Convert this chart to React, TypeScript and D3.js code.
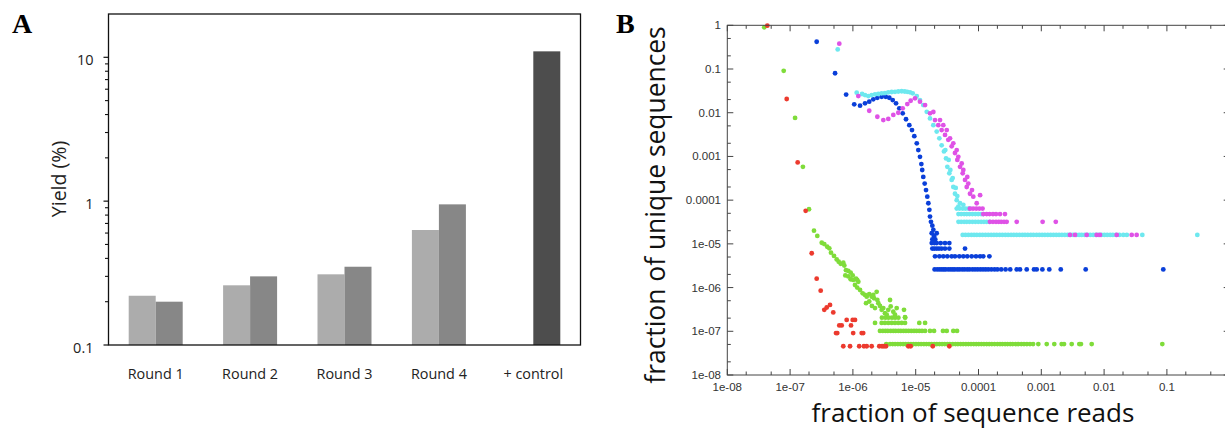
import React from "react";
import * as d3 from "d3";

const W = 1225;
const H = 429;

// ---------- Panel A data ----------
const categories = ["Round 1", "Round 2", "Round 3", "Round 4", "+ control"];
const seriesLight: (number | null)[] = [0.22, 0.26, 0.31, 0.63, null];
const seriesMedium: (number | null)[] = [0.2, 0.3, 0.35, 0.95, null];
const seriesControl: (number | null)[] = [null, null, null, null, 11];
const yTicksA = [0.1, 1, 10];
const yTickLabelsA = ["0.1", "1", "10"];

// ---------- Panel B data ----------
const xTicksB = [1e-8, 1e-7, 1e-6, 1e-5, 1e-4, 1e-3, 1e-2, 1e-1];
const xTickLabelsB = ["1e-08", "1e-07", "1e-06", "1e-05", "0.0001", "0.001", "0.01", "0.1"];
const yTicksB = [1, 0.1, 0.01, 1e-3, 1e-4, 1e-5, 1e-6, 1e-7, 1e-8];
const yTickLabelsB = ["1", "0.1", "0.01", "0.001", "0.0001", "1e-05", "1e-06", "1e-07", "1e-08"];

type P = [number, number];

// red
const redCurve: P[] = [
  [4.34e-8, 0.98], [8.83e-8, 0.0206], [1.32e-7, 7.3e-4], [1.77e-7, 5.7e-5], [2.21e-7, 6.1e-6],
  [2.65e-7, 1.6e-6], [3.07e-7, 8.5e-7], [3.5e-7, 3.1e-7], [3.83e-7, 3.5e-7], [4.32e-7, 4.0e-7], [4.87e-7, 2.7e-7],
];
const redRowY = [4.55e-8, 9.1e-8, 1.36e-7, 1.82e-7];
const redRowX = [
  [7.03e-7, 9.0e-7, 1.26e-6, 1.5e-6, 1.66e-6, 1.99e-6, 2.63e-6, 2.91e-6, 3.13e-6, 3.37e-6, 7.62e-6, 8.32e-6, 1.87e-5, 3.43e-5],
  [5.38e-7, 5.64e-7, 1.01e-6, 1.38e-6, 1.46e-6],
  [6.07e-7, 6.63e-7, 9.33e-7],
  [7.96e-7, 9.93e-7, 1.08e-6],
];

// green
const greenCurve: P[] = [
  [3.88e-8, 0.9], [7.91e-8, 0.091], [1.2e-7, 0.0076], [1.6e-7, 5.8e-4], [2.0e-7, 6.2e-5], [2.4e-7, 2.0e-5],
  [2.71e-7, 1.52e-5], [3.19e-7, 1.06e-5], [3.5e-7, 9.9e-6], [3.9e-7, 8.6e-6], [4.21e-7, 7.9e-6], [4.48e-7, 6.3e-6],
  [5.0e-7, 5.3e-6], [5.52e-7, 4.4e-6], [5.94e-7, 3.9e-6], [6.4e-7, 3.5e-6], [7.03e-7, 3.7e-6], [7.3e-7, 3.2e-6],
  [7.76e-7, 2.5e-6], [8.45e-7, 2.4e-6], [9.2e-7, 2.2e-6], [9.93e-7, 1.9e-6], [7.57e-7, 1.9e-6], [8.45e-7, 1.8e-6],
  [9.2e-7, 1.55e-6], [1.01e-6, 1.5e-6], [1.12e-6, 1.6e-6], [1.17e-6, 1.5e-6], [1.22e-6, 1.36e-6], [1.08e-6, 1.15e-6],
  [1.17e-6, 1.0e-6], [1.3e-6, 8.8e-7], [1.43e-6, 7.4e-7], [1.56e-6, 6.8e-7], [1.66e-6, 6.2e-7], [1.82e-6, 7.1e-7],
  [1.99e-6, 6.2e-7], [2.11e-6, 6.8e-7], [2.17e-6, 5.7e-7], [2.39e-6, 8.0e-7], [2.45e-6, 5.2e-7], [1.62e-6, 4.4e-7],
  [1.82e-6, 4.8e-7], [2.01e-6, 3.8e-7], [2.25e-6, 3.4e-7], [2.54e-6, 4.4e-7], [2.7e-6, 3.8e-7], [2.87e-6, 3.1e-7],
  [3.05e-6, 3.4e-7], [3.24e-6, 2.6e-7], [3.45e-6, 2.4e-7], [3.66e-6, 3.1e-7], [3.9e-6, 5.2e-7], [4.0e-6, 3.7e-7],
  [4.4e-6, 2.8e-7], [4.68e-6, 2.4e-7], [4.98e-6, 3.4e-7], [6.51e-6, 3.1e-7], [6.76e-6, 2.1e-7],
];
const greenRowY = [5.1e-8, 1.02e-7, 1.55e-7, 2.05e-7];
const greenRowX = [
  [3.4e-6, 3.9e-6, 4.3e-6, 4.7e-6, 5.2e-6, 5.7e-6, 6.3e-6, 6.9e-6, 7.6e-6, 8.4e-6, 9.2e-6, 1.01e-5, 1.11e-5,
    1.22e-5, 1.35e-5, 1.48e-5, 1.63e-5, 1.79e-5, 1.97e-5, 2.17e-5, 2.39e-5, 2.63e-5, 2.9e-5, 3.2e-5, 3.5e-5,
    3.9e-5, 4.3e-5, 4.7e-5, 5.2e-5, 5.7e-5, 6.3e-5, 6.9e-5, 7.6e-5, 8.4e-5, 9.2e-5, 1.01e-4, 1.11e-4, 1.22e-4,
    1.35e-4, 1.48e-4, 1.63e-4, 1.8e-4, 2.0e-4, 2.2e-4, 2.4e-4, 2.65e-4, 2.9e-4, 3.2e-4, 3.5e-4, 3.9e-4, 4.3e-4,
    4.8e-4, 5.3e-4, 5.9e-4, 6.6e-4, 7.4e-4, 8.96e-4, 1.22e-3, 1.61e-3, 2.11e-3, 2.3e-3, 3.05e-3, 4.03e-3,
    4.28e-3, 6.35e-3, 8.45e-2],
  [2.7e-6, 3.0e-6, 3.3e-6, 3.6e-6, 4.0e-6, 4.4e-6, 4.8e-6, 5.3e-6, 5.8e-6, 6.4e-6, 7.0e-6, 7.7e-6, 8.5e-6,
    9.4e-6, 1.03e-5, 1.14e-5, 1.26e-5, 1.41e-5, 1.69e-5, 1.96e-5, 2.72e-5, 3.12e-5, 3.97e-5, 4.55e-5],
  [2.25e-6, 2.87e-6, 3.24e-6, 3.66e-6, 4.15e-6, 4.68e-6, 5.28e-6, 5.98e-6, 6.76e-6, 1.14e-5, 1.41e-5],
  [2.9e-6, 3.3e-6, 3.7e-6, 4.2e-6, 4.7e-6, 5.3e-6, 6.8e-6],
];

// blue
const blueCurve: P[] = [
  [2.65e-7, 0.42], [5.2e-7, 0.08], [7.8e-7, 0.026], [1.05e-6, 0.0156], [1.3e-6, 0.0145], [1.56e-6, 0.0164],
  [1.82e-6, 0.0179], [2.11e-6, 0.0203], [2.45e-6, 0.022], [2.87e-6, 0.0232], [3.33e-6, 0.0232], [3.8e-6, 0.022],
  [4.3e-6, 0.0195], [4.86e-6, 0.0164], [5.48e-6, 0.0126], [6.21e-6, 0.0097], [7.01e-6, 0.0071], [7.91e-6, 0.0052],
  [8.73e-6, 0.004], [9.5e-6, 0.0029], [1.04e-5, 0.002], [1.1e-5, 0.0014], [1.17e-5, 9.8e-4], [1.23e-5, 6.7e-4],
  [1.27e-5, 4.9e-4], [1.32e-5, 3.4e-4], [1.39e-5, 2.4e-4], [1.46e-5, 1.7e-4], [1.53e-5, 1.2e-4], [1.59e-5, 8.5e-5],
  [1.65e-5, 6.0e-5], [1.69e-5, 4.2e-5], [1.75e-5, 3.2e-5], [1.84e-5, 2.6e-5], [1.91e-5, 2.1e-5],
  [1.8e-5, 1.75e-5], [2.16e-5, 1.75e-5], [1.96e-5, 1.5e-5], [1.84e-5, 1.26e-5], [2.05e-5, 1.26e-5],
];
const blueRowY = [2.6e-6, 5.2e-6, 7.8e-6, 1.04e-5];
const blueRowX = [
  [2.0e-5, 2.2e-5, 2.4e-5, 2.6e-5, 2.8e-5, 3.0e-5, 3.3e-5, 3.6e-5, 3.9e-5, 4.2e-5, 4.6e-5, 5.0e-5, 5.5e-5,
    6.0e-5, 6.6e-5, 7.2e-5, 8.0e-5, 8.8e-5, 9.7e-5, 1.07e-4, 1.18e-4, 1.3e-4, 1.43e-4, 1.6e-4, 1.8e-4, 2.0e-4,
    2.3e-4, 2.7e-4, 3.2e-4, 4.06e-4, 4.58e-4, 5.86e-4, 7.65e-4, 8.45e-4, 1.04e-3, 1.34e-3, 2.04e-3, 5.09e-3, 8.76e-2],
  [2.03e-5, 2.38e-5, 2.75e-5, 3.19e-5, 3.74e-5, 4.22e-5, 4.95e-5, 5.73e-5, 6.63e-5, 7.79e-5, 9.12e-5, 1.06e-4,
    1.19e-4, 1.49e-4],
  [1.84e-5, 1.98e-5, 2.16e-5, 2.35e-5, 2.59e-5, 2.93e-5, 3.43e-5, 6.1e-5],
  [1.8e-5, 1.98e-5, 2.16e-5, 2.5e-5, 2.93e-5, 3.43e-5],
];

// cyan
const cyanCurve: P[] = [
  [5.73e-7, 0.28], [1.15e-6, 0.0287], [1.4e-6, 0.0268], [1.56e-6, 0.0254], [1.76e-6, 0.024], [1.99e-6, 0.0254],
  [2.25e-6, 0.0264], [2.54e-6, 0.0268], [2.87e-6, 0.0278], [3.24e-6, 0.0282], [3.66e-6, 0.0293], [4.15e-6, 0.0298],
  [4.68e-6, 0.03], [5.28e-6, 0.0306], [5.98e-6, 0.031], [6.69e-6, 0.0306], [7.35e-6, 0.03], [8.12e-6, 0.0293],
  [8.96e-6, 0.0278], [1.04e-5, 0.024],
  [1.17e-5, 0.0195], [1.32e-5, 0.015], [1.5e-5, 0.0105], [1.69e-5, 0.0074], [1.91e-5, 0.0052], [2.16e-5, 0.0037],
  [2.38e-5, 0.0026], [2.59e-5, 0.0018], [2.82e-5, 0.0013], [3.04e-5, 9.0e-4], [3.19e-5, 5.8e-4], [3.43e-5, 4.1e-4],
  [3.74e-5, 2.9e-4], [3.97e-5, 2.0e-4], [4.22e-5, 1.4e-4], [4.5e-5, 1.0e-4], [4.77e-5, 7.1e-5],
  [2.96e-5, 1.4e-3], [3.35e-5, 8.3e-4], [3.56e-5, 4.9e-4], [3.88e-5, 3.2e-4], [4.34e-5, 1.9e-4], [4.6e-5, 1.24e-4],
  [5.08e-5, 8.5e-5], [5.73e-5, 7.8e-5],
];
const cyanRowY = [1.6e-5, 3.2e-5, 4.8e-5, 6.4e-5];
const cyanRowX = [
  [5.6e-5, 6.2e-5, 6.9e-5, 7.7e-5, 8.5e-5, 9.4e-5, 1.05e-4, 1.16e-4, 1.29e-4, 1.43e-4, 1.59e-4, 1.76e-4, 1.95e-4,
    2.17e-4, 2.4e-4, 2.67e-4, 2.96e-4, 3.3e-4, 3.65e-4, 4.05e-4, 4.5e-4, 5.0e-4, 5.5e-4, 6.1e-4, 6.8e-4, 7.5e-4,
    8.4e-4, 9.3e-4, 1.03e-3, 1.14e-3, 1.27e-3, 1.41e-3, 1.56e-3, 1.73e-3, 1.92e-3, 2.13e-3, 2.37e-3, 2.63e-3,
    2.9e-3, 3.2e-3, 3.6e-3, 4.0e-3, 4.4e-3, 4.9e-3, 5.4e-3, 6.0e-3, 6.7e-3, 7.4e-3, 8.2e-3, 9.1e-3, 1.01e-2,
    1.12e-2, 1.25e-2, 1.38e-2, 1.55e-2, 1.75e-2, 2.02e-2, 2.3e-2, 4.06e-2, 0.305],
  [4.8e-5, 5.3e-5, 5.9e-5, 6.5e-5, 7.2e-5, 8.0e-5, 8.9e-5, 9.9e-5, 1.1e-4, 1.22e-4, 1.35e-4, 1.5e-4],
  [4.8e-5, 5.3e-5, 5.9e-5, 6.5e-5, 7.2e-5, 8.0e-5, 8.9e-5, 9.9e-5, 1.1e-4, 1.19e-4],
  [4.5e-5, 5.0e-5, 5.6e-5, 6.2e-5, 6.9e-5, 7.3e-5],
];

// magenta
const magentaCurve: P[] = [
  [6.07e-7, 0.38], [1.22e-6, 0.024], [1.82e-6, 0.0111], [2.45e-6, 0.0081], [3.05e-6, 0.0068], [3.66e-6, 0.0072],
  [4.4e-6, 0.0089], [5.28e-6, 0.01], [6.21e-6, 0.0126], [7.35e-6, 0.0158], [8.32e-6, 0.0188], [9.75e-6, 0.0213],
  [1.17e-5, 0.0179], [1.41e-5, 0.015], [1.69e-5, 0.0097], [2.03e-5, 0.0068], [2.29e-5, 0.0052], [2.59e-5, 0.004],
  [2.93e-5, 0.0031], [3.3e-5, 0.0024], [3.74e-5, 0.0017], [4.22e-5, 0.0012], [4.6e-5, 8.3e-4], [5.08e-5, 5.8e-4],
  [5.6e-5, 4.1e-4], [6.1e-5, 2.9e-4], [6.49e-5, 2.0e-4], [7.32e-5, 1.4e-4], [8.26e-5, 1.2e-4], [9.36e-5, 8.5e-5],
  [1.06e-4, 1.3e-4], [1.91e-5, 0.0104], [2.44e-5, 0.0068], [2.75e-5, 0.0052], [3.12e-5, 0.004], [3.52e-5, 0.0026],
  [3.97e-5, 0.002], [4.5e-5, 1.4e-3], [4.77e-5, 9.8e-4], [5.4e-5, 6.9e-4], [5.73e-5, 4.9e-4], [6.63e-5, 3.4e-4],
  [6.88e-5, 2.4e-4], [7.88e-5, 1.7e-4],
];
const magentaRowY = [1.6e-5, 3.2e-5, 4.8e-5, 6.4e-5];
const magentaRowX = [
  [2.86e-3, 3.44e-3, 5.28e-3, 7.62e-3, 8.6e-3, 1.59e-2, 2.75e-2, 3.3e-2],
  [1.52e-4, 1.7e-4, 1.9e-4, 2.1e-4, 2.3e-4, 2.55e-4, 2.81e-4, 4.06e-4, 1.05e-3, 1.7e-3],
  [1.19e-4, 1.35e-4, 1.5e-4, 1.7e-4, 1.9e-4, 2.2e-4, 2.64e-4],
  [7.3e-5, 8.2e-5, 9.2e-5, 1.03e-4, 1.16e-4],
];

const rows = (ys: number[], xs: number[][]): P[] => xs.flatMap((r, i) => r.map((x) => [x, ys[i]] as P));

const seriesB = [
  { name: "green", color: "#7fdc3a", pts: [...greenCurve, ...rows(greenRowY, greenRowX)] },
  { name: "red", color: "#ec3a2e", pts: [...redCurve, ...rows(redRowY, redRowX)] },
  { name: "blue", color: "#0a3fd9", pts: [...blueCurve, ...rows(blueRowY, blueRowX)] },
  { name: "cyan", color: "#6ee8ef", pts: [...cyanCurve, ...rows(cyanRowY, cyanRowX)] },
  { name: "magenta", color: "#df52e6", pts: [...magentaCurve, ...rows(magentaRowY, magentaRowX)] },
];

const mant = (v: number) => Math.round(v / Math.pow(10, Math.floor(Math.log10(v) + 1e-9)));

export default function App() {
  // Panel A
  const aL = 108.5, aR = 580.5, aT = 14, aB = 345;
  const xA = d3.scaleBand<string>().domain(categories).range([aL, aR]);
  const yA = d3.scaleLog().domain([0.1, 20]).range([aB, aT]);
  const barW = xA.bandwidth() * 0.286;
  const minorA = yA.ticks().filter((v) => v < 10 && mant(v) !== 1);
  const fA = "'Open Sans', sans-serif";

  // Panel B
  const bL = 727.3, bR = 1229.7, bT = 25.3, bB = 375;
  const xB = d3.scaleLog().domain([1e-8, 1]).range([bL, bR]);
  const yB = d3.scaleLog().domain([1e-8, 1]).range([bB, bT]);
  const minorXB = xB.ticks().filter((v) => [2, 5].includes(mant(v)));
  const minorYB = yB.ticks().filter((v) => [2, 5].includes(mant(v)));
  const axC = "#444";
  const fB = "'Liberation Sans', Arial, sans-serif";

  return (
    <svg width={W} height={H} style={{ position: "absolute", left: 0, top: 0, background: "#fff" }}>
      <rect x={0} y={0} width={W} height={H} fill="#fff" />
      {/* ===== Panel A ===== */}
      <text x={12} y={33} fontFamily="'Liberation Serif', serif" fontWeight="bold" fontSize={28}>A</text>
      {categories.map((c, i) => {
        const cx = (xA(c) as number) + xA.bandwidth() / 2;
        const els: any[] = [];
        const l = seriesLight[i], m = seriesMedium[i], k = seriesControl[i];
        if (l != null) els.push(<rect key="l" x={cx - barW} y={yA(l)} width={barW} height={aB - yA(l)} fill="#acacac" />);
        if (m != null) els.push(<rect key="m" x={cx} y={yA(m)} width={barW} height={aB - yA(m)} fill="#878787" />);
        if (k != null) els.push(<rect key="k" x={cx} y={yA(k)} width={barW} height={aB - yA(k)} fill="#4d4d4d" />);
        return <g key={c}>{els}</g>;
      })}
      <rect x={aL} y={aT} width={aR - aL} height={aB - aT} fill="none" stroke="#111" strokeWidth={1.3} />
      {yTicksA.map((v, i) => (
        <g key={v}>
          <line x1={aL - 5} x2={aL} y1={yA(v)} y2={yA(v)} stroke="#111" strokeWidth={1.2} />
          <text x={aL - 15} y={yA(v) + 7.6} textAnchor="end" fontFamily={fA} fontSize={14.5} fill="#222">{yTickLabelsA[i]}</text>
        </g>
      ))}
      {minorA.map((v) => (
        <line key={v} x1={aL - 3.5} x2={aL} y1={yA(v)} y2={yA(v)} stroke="#111" strokeWidth={1.1} />
      ))}
      {categories.map((c) => (
        <text key={c} x={(xA(c) as number) + xA.bandwidth() / 2} y={379} textAnchor="middle" fontFamily={fA} fontSize={14.4} fill="#222">{c}</text>
      ))}
      <text transform={`translate(66,179) rotate(-90)`} textAnchor="middle" fontFamily={fA} fontSize={19.5} fill="#222">Yield (%)</text>

      {/* ===== Panel B ===== */}
      <text x={616} y={33} fontFamily="'Liberation Serif', serif" fontWeight="bold" fontSize={28}>B</text>
      {seriesB.map((s) => (
        <g key={s.name} fill={s.color}>
          {s.pts.map((p, i) => (
            <circle key={i} cx={xB(p[0])} cy={yB(p[1])} r={2.4} />
          ))}
        </g>
      ))}
      <rect x={bL} y={bT} width={bR - bL} height={bB - bT} fill="none" stroke={axC} strokeWidth={1} />
      {xTicksB.map((v, i) => (
        <g key={"xt" + v}>
          <line x1={xB(v)} x2={xB(v)} y1={bB} y2={bB - 6} stroke={axC} />
          <line x1={xB(v)} x2={xB(v)} y1={bT} y2={bT + 6} stroke={axC} />
          <text x={xB(v)} y={391} textAnchor="middle" fontFamily={fB} fontSize={11.5} fill="#333">{xTickLabelsB[i]}</text>
        </g>
      ))}
      {minorXB.map((v) => (
        <g key={"xm" + v}>
          <line x1={xB(v)} x2={xB(v)} y1={bB} y2={bB - 3.5} stroke={axC} />
          <line x1={xB(v)} x2={xB(v)} y1={bT} y2={bT + 3.5} stroke={axC} />
        </g>
      ))}
      {yTicksB.map((v, i) => (
        <g key={"yt" + v}>
          <line x1={bL} x2={bL + 6} y1={yB(v)} y2={yB(v)} stroke={axC} />
          <line x1={bR} x2={bR - 6} y1={yB(v)} y2={yB(v)} stroke={axC} />
          <text x={721} y={yB(v) + 4} textAnchor="end" fontFamily={fB} fontSize={11.5} fill="#333">{yTickLabelsB[i]}</text>
        </g>
      ))}
      {minorYB.map((v) => (
        <g key={"ym" + v}>
          <line x1={bL} x2={bL + 3.5} y1={yB(v)} y2={yB(v)} stroke={axC} />
          <line x1={bR} x2={bR - 3.5} y1={yB(v)} y2={yB(v)} stroke={axC} />
        </g>
      ))}
      <text x={973} y={421.5} textAnchor="middle" fontFamily={fA} fontSize={26} fill="#111">fraction of sequence reads</text>
      <text transform={`translate(665,205) rotate(-90)`} textAnchor="middle" fontFamily={fA} fontSize={26.4} fill="#111">fraction of unique sequences</text>
    </svg>
  );
}
